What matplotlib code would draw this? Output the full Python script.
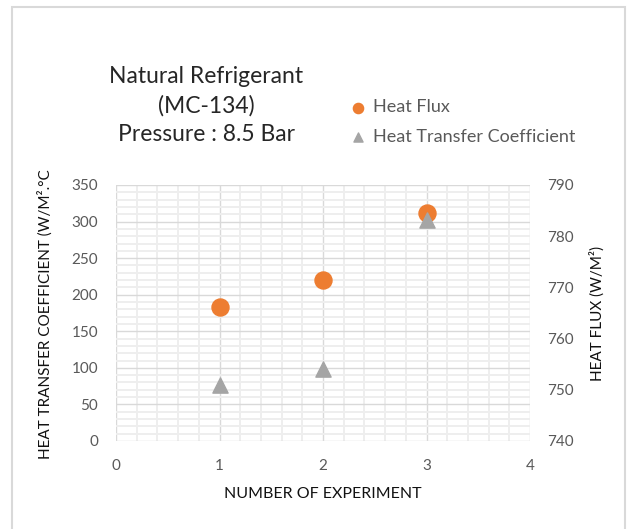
import matplotlib.pyplot as plt
from matplotlib.patches import Rectangle
from matplotlib.ticker import MultipleLocator

plt.rcParams['font.family'] = ['Lato', 'DejaVu Sans']

# data
experiments = [1, 2, 3]
heat_flux = [766.2, 771.5, 784.5]          # W/m2, right axis
htc = [77, 98, 302]                        # W/m2.C, left axis

title_lines = "Natural Refrigerant\n(MC-134)\nPressure : 8.5 Bar"
tick_grey = '#595959'
orange = '#ED7D31'
grey = '#A5A5A5'

fig = plt.figure(figsize=(6.33, 5.29), dpi=100)
ax = fig.add_axes([116 / 633, 1 - 441 / 529, (530 - 116) / 633, (441 - 185) / 529])
ax2 = ax.twinx()

# left axis: grid lives here
ax.set_xlim(0, 4)
ax.set_ylim(0, 350)
ax.xaxis.set_major_locator(MultipleLocator(1))
ax.xaxis.set_minor_locator(MultipleLocator(0.2))
ax.yaxis.set_major_locator(MultipleLocator(50))
ax.yaxis.set_minor_locator(MultipleLocator(10))
ax.grid(which='major', color='#d9d9d9', lw=1.0)
ax.grid(which='minor', color='#eeeeee', lw=1.4)
ax.set_axisbelow(True)

ax2.set_ylim(740, 790)
ax2.yaxis.set_major_locator(MultipleLocator(10))

for a in (ax, ax2):
    for s in a.spines.values():
        s.set_visible(False)
ax.tick_params(which='both', length=0)
ax.tick_params(axis='y', pad=13, labelsize=11, labelcolor=tick_grey)
ax.tick_params(axis='x', pad=13, labelsize=11, labelcolor=tick_grey)
ax2.tick_params(which='both', length=0, pad=12, labelsize=11, labelcolor=tick_grey)

# heat flux on the right scale, HTC drawn above it using the left scale
h1 = ax2.scatter(experiments, heat_flux, s=150, marker='o', color=orange,
                 zorder=2, label='Heat Flux')
h2 = ax2.scatter(experiments, htc, s=120, marker='^', color=grey,
                 transform=ax.transData, zorder=3, label='Heat Transfer Coefficient')
ax2.set_ylim(740, 790)

fig.text(206 / 633, 1 - 105.5 / 529, title_lines, ha='center', va='center',
         fontsize=16.5, color='#262626', linespacing=1.45)

fig.legend(handles=[h1, h2], loc='center left', bbox_to_anchor=(349 / 633, 1 - 122 / 529),
           frameon=False, fontsize=13, labelcolor=tick_grey, markerscale=0.6,
           handlelength=1.0, handletextpad=0.35, borderpad=0, borderaxespad=0,
           labelspacing=0.72)

fig.text(323 / 633, 1 - 494 / 529, 'NUMBER OF EXPERIMENT', ha='center', va='center',
         fontsize=11.5, color='#111111')
fig.text(45 / 633, 1 - 314 / 529, 'HEAT TRANSFER COEFFICIENT (W/M².°C', rotation=90,
         ha='center', va='center', fontsize=11, color='#111111')
fig.text(597 / 633, 1 - 313 / 529, 'HEAT FLUX (W/M²)', rotation=90,
         ha='center', va='center', fontsize=11, color='#111111')

# chart area border
fig.patches.append(Rectangle((12 / 633, -0.05), (625 - 12) / 633, 1 - 7 / 529 + 0.05,
                             transform=fig.transFigure, fill=False,
                             edgecolor='#d9d9d9', lw=1.5))

fig.savefig('out.png', dpi=100)
